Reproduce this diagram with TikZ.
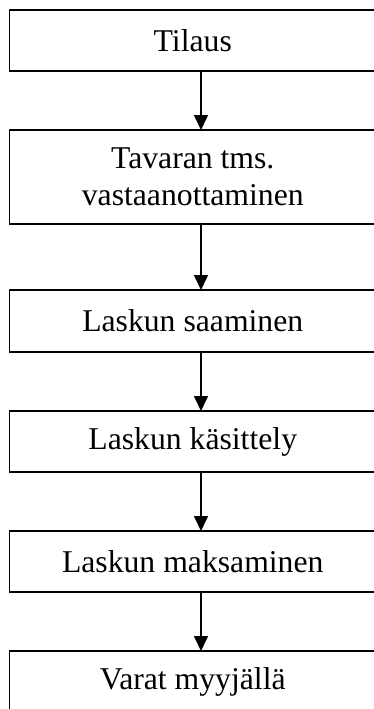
\documentclass[tikz,border=0pt]{standalone}
\usepackage{fontspec}
\setmainfont{Liberation Serif}
\usetikzlibrary{arrows.meta}
\begin{document}
\begin{tikzpicture}[x=1pt,y=-1pt,
  stage/.style={draw=black,line width=1.8pt,rectangle,inner sep=0pt,outer sep=0pt,
    minimum width=366.5pt,align=center,
    font=\fontsize{31.7}{37}\selectfont},
  flow/.style={line width=1.6pt,-{Triangle[width=14pt,length=15pt]}}]
\useasboundingbox (0,0) rectangle (374,709);
\clip (0,0) rectangle (374,709);
\fill[white] (0,0) rectangle (374,709);
% stages of the purchase process
\node[stage,minimum height=61pt] (tilaus) at (192.75,40.5) {Tilaus};
\node[stage,minimum height=94pt] (tavara) at (192.75,177) {Tavaran tms.\\vastaanottaminen};
\node[stage,minimum height=62pt] (saanti) at (192.75,321) {Laskun saaminen};
\node[stage,minimum height=61pt] (kasittely) at (192.75,441.5) {Laskun käsittely};
\node[stage,minimum height=61pt] (maksu) at (192.75,561.5) {Laskun maksaminen};
\node[stage,minimum height=62pt] (varat) at (192.75,682) {Varat myyjällä};
% arrows run on a common vertical line
\coordinate (ax) at (201,0);
\draw[flow] (tilaus.south -| ax) -- (tavara.north -| ax);
\draw[flow] (tavara.south -| ax) -- (saanti.north -| ax);
\draw[flow] (saanti.south -| ax) -- (kasittely.north -| ax);
\draw[flow] (kasittely.south -| ax) -- (maksu.north -| ax);
\draw[flow] (maksu.south -| ax) -- (varat.north -| ax);
\end{tikzpicture}
\end{document}
